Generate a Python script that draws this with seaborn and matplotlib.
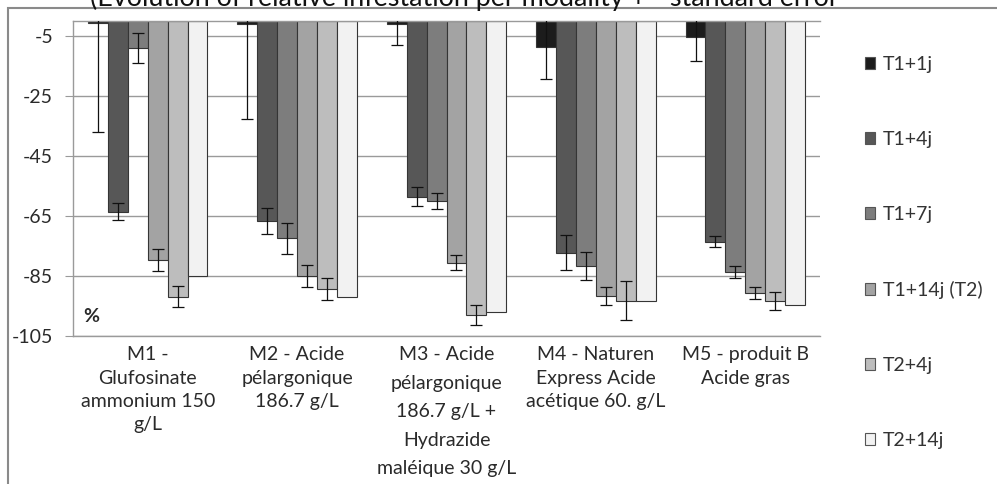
import numpy as np
import pandas as pd
import matplotlib
matplotlib.use("Agg")
import matplotlib.pyplot as plt
from matplotlib.patches import Patch, Rectangle
import seaborn as sns

categories = [
    "M1 -\nGlufosinate\nammonium 150\ng/L",
    "M2 - Acide\npélargonique\n186.7 g/L",
    "M3 - Acide\npélargonique\n186.7 g/L +\nHydrazide\nmaléique 30 g/L",
    "M4 - Naturen\nExpress Acide\nacétique 60. g/L",
    "M5 - produit B\nAcide gras",
]
series = ["T1+1j", "T1+4j", "T1+7j", "T1+14j (T2)", "T2+4j", "T2+14j"]

t1_1j = [-0.5, -1.0, -1.0, -8.6, -5.4]
t1_4j = [-63.6, -66.6, -58.6, -77.2, -73.6]
t1_7j = [-9.0, -72.4, -59.9, -81.6, -83.6]
t1_14j = [-79.7, -85.0, -80.6, -91.7, -90.6]
t2_4j = [-91.9, -89.3, -98.0, -93.2, -93.2]
t2_14j = [-85.0, -91.9, -96.9, -93.2, -94.7]

se_t1_1j = [36.4, 31.5, 7.0, 10.8, 8.0]
se_t1_4j = [2.8, 4.3, 3.2, 5.8, 1.8]
se_t1_7j = [5.0, 5.2, 2.6, 4.7, 2.0]
se_t1_14j = [3.6, 3.8, 2.5, 3.0, 2.0]
se_t2_4j = [3.5, 3.8, 3.2, 6.4, 3.0]
se_t2_14j = [None, None, None, None, None]

yticks = [-5, -25, -45, -65, -85, -105]
title = "(Evolution of relative infestation per modality + - standard error"

values = [t1_1j, t1_4j, t1_7j, t1_14j, t2_4j, t2_14j]
errors = [se_t1_1j, se_t1_4j, se_t1_7j, se_t1_14j, se_t2_4j, se_t2_14j]
colors = ["#1c1c1c", "#575757", "#7d7d7d", "#a3a3a3", "#bdbdbd", "#f2f2f2"]

rows = []
for s, vals in zip(series, values):
    for c, v in zip(categories, vals):
        rows.append({"cat": c, "series": s, "value": v})
df = pd.DataFrame(rows)

sns.set_theme(style="white")
plt.rcParams["font.family"] = ["Lato", "DejaVu Sans"]

W, H = 997, 484
fig = plt.figure(figsize=(W / 100, H / 100), dpi=100)
ax = fig.add_axes([73 / W, 1 - 336 / H, (820 - 73) / W, (336 - 21) / H])

sns.barplot(data=df, x="cat", y="value", hue="series", order=categories,
            hue_order=series, palette=colors, errorbar=None, ax=ax,
            edgecolor="#353535", linewidth=0.8, saturation=1, legend=False)

for cont, errs in zip(ax.containers, errors):
    for patch, e in zip(cont.patches, errs):
        if e is None:
            continue
        xc = patch.get_x() + patch.get_width() / 2
        yv = min(patch.get_y(), patch.get_y() + patch.get_height())
        ax.errorbar(xc, yv, yerr=e, fmt="none", ecolor="#111111",
                    elinewidth=0.9, capsize=4, capthick=0.9, zorder=5)

ax.set_ylim(-105, 0)
ax.set_xlim(-0.5, len(categories) - 0.5)
ax.set_yticks(yticks)
ax.set_yticklabels([str(t) for t in yticks])
ax.yaxis.grid(True, color="#9a9a9a", linewidth=1.0)
ax.set_axisbelow(True)
ax.set_xlabel("")
ax.set_ylabel("")
ax.tick_params(axis="y", which="both", left=True, length=5.8, width=0.8,
               color="#9a9a9a", labelsize=14, labelcolor="#2a2a2a", pad=8.5)
ax.tick_params(axis="x", which="both", bottom=False, labelsize=14,
               labelcolor="#2a2a2a", pad=1.5)
for i, lbl in enumerate(ax.get_xticklabels()):
    lbl.set_linespacing(1.82 if i == 2 else 1.45)
for side in ["left", "top", "bottom"]:
    ax.spines[side].set_visible(True)
    ax.spines[side].set_color("#9a9a9a")
    ax.spines[side].set_linewidth(1.0)
ax.spines["right"].set_visible(False)

ax.text(10 / 747, 20 / 315, "%", transform=ax.transAxes, ha="left", va="center",
        fontsize=14, fontweight="bold", color="#2a2a2a")

handles = [Patch(facecolor=c, edgecolor="#555555", linewidth=0.8) for c in colors]
fig.legend(handles, series, loc="upper left",
           bbox_to_anchor=(865 / W, 1 - 56 / H), frameon=False,
           fontsize=14, labelcolor="#333333", handlelength=0.52,
           handleheight=0.52, handletextpad=0.4, labelspacing=2.98,
           borderpad=0, borderaxespad=0)

fig.text(464 / W, 1 - 6 / H, title, ha="center", va="baseline",
         fontsize=19.4, color="#111111")

frame = Rectangle((8 / W, -0.05), 1.2, (H - 8) / H + 0.05,
                  transform=fig.transFigure, fill=False,
                  edgecolor="#8a8a8a", linewidth=1.5, clip_on=False)
fig.patches.append(frame)

fig.savefig("out.png", dpi=100)
